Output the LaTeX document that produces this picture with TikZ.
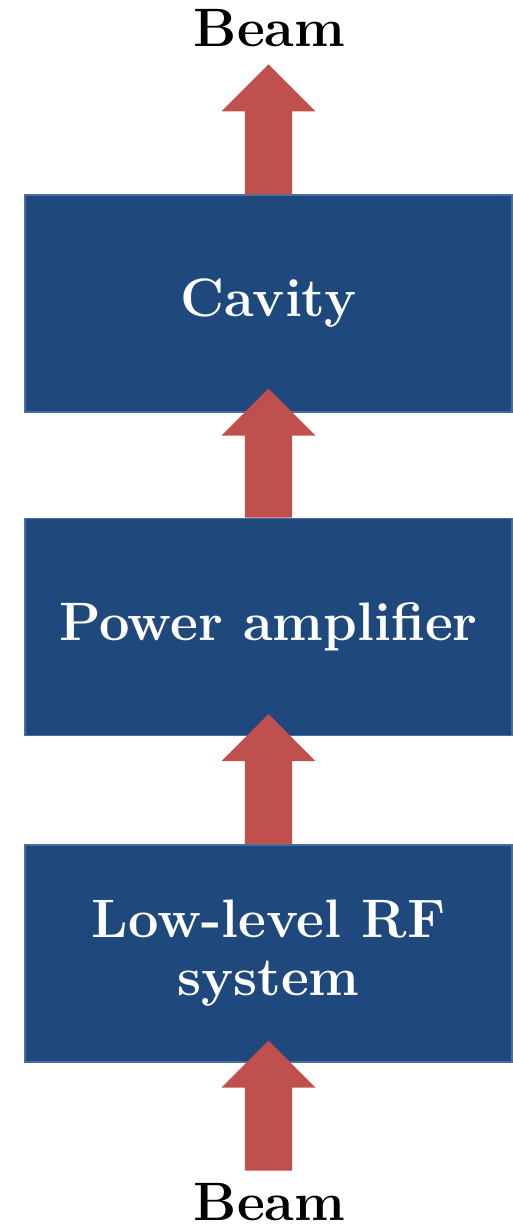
\documentclass[tikz,border=0pt]{standalone}
\usepackage{tikz}
\usetikzlibrary{positioning,calc}

\definecolor{boxblue}{RGB}{31,73,125}
\definecolor{boxline}{RGB}{70,110,160}
\definecolor{beamred}{RGB}{192,80,77}

\tikzset{
    block/.style={draw=boxline, line width=1pt, fill=boxblue, text=white,
        minimum width=12.175cm, minimum height=5.425cm, inner sep=0pt,
        align=center, font=\fontsize{38.5}{41.5}\selectfont\bfseries},
    beamlabel/.style={font=\fontsize{38.5}{41.5}\selectfont\bfseries, inner sep=0pt, anchor=base}
}

% block arrow: shaft starts at #1, tip at #2
\newcommand{\fatarrow}[2]{%
    \fill[beamred] ($(#1)+(-0.59,0)$) -- ($(#2)+(-0.59,-1.175)$)
        -- ($(#2)+(-1.175,-1.175)$) -- (#2) -- ($(#2)+(1.175,-1.175)$)
        -- ($(#2)+(0.59,-1.175)$) -- ($(#1)+(0.59,0)$) -- cycle;
}

\begin{document}
\begin{tikzpicture}
    \useasboundingbox (0,0) rectangle (12.825,30.775);

    % The three stages
    \node[block] (cav) at (6.7125,23.1875) {Cavity};
    \node[block, below=2.625cm of cav] (pa) {Power amplifier};
    \node[block, below=2.7cm of pa] (llrf) {Low-level RF\\system};

    % Beam in and out
    \node[beamlabel] (beamtop) at (6.74,29.6) {Beam};
    \node[beamlabel] (beambot) at (6.74,0.25) {Beam};

    % Arrow ends
    \coordinate (beamout) at ($(cav.north)+(0,3.25)$);
    \coordinate (tipcav) at ($(cav.south)+(0,0.6)$);
    \coordinate (tippa) at ($(pa.south)+(0,0.55)$);
    \coordinate (tipllrf) at ($(llrf.south)+(0,0.55)$);
    \coordinate (beamin) at ($(llrf.south)+(0,-2.7)$);

    % Arrows
    \fatarrow{cav.north}{beamout}
    \fatarrow{pa.north}{tipcav}
    \fatarrow{llrf.north}{tippa}
    \fatarrow{beamin}{tipllrf}
\end{tikzpicture}
\end{document}
